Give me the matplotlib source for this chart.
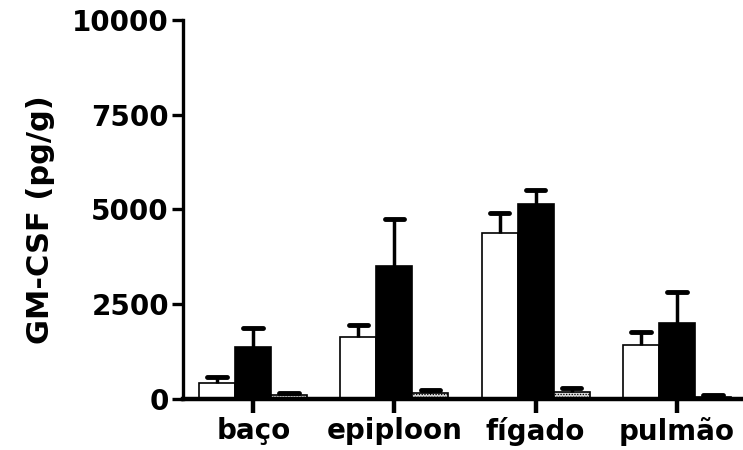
import numpy as np
import matplotlib
matplotlib.use("Agg")
from matplotlib import pyplot as plt

# GM-CSF levels per organ (pg/g), three groups per organ
orgaos = ["baço", "epiploon", "fígado", "pulmão"]
grupo_branco = [420, 1630, 4380, 1420]
erro_branco = [170, 320, 520, 350]
grupo_preto = [1370, 3510, 5140, 2000]
erro_preto = [500, 1240, 370, 820]
grupo_pontilhado = [100, 150, 200, 60]
erro_pontilhado = [60, 80, 100, 40]

plt.rcParams["font.family"] = "DejaVu Sans"
plt.rcParams["font.weight"] = "bold"
plt.rcParams["hatch.linewidth"] = 0.6

fig = plt.figure(figsize=(7.43, 4.5), dpi=100)
ax = fig.add_axes([0.246, 0.113, 0.754, 0.843])

x = np.arange(len(orgaos))
w = 0.255
series = [
    (grupo_branco, erro_branco, dict(facecolor="white")),
    (grupo_preto, erro_preto, dict(facecolor="black")),
    (grupo_pontilhado, erro_pontilhado, dict(facecolor="#dcdcdc", hatch="......")),
]
for i, (vals, errs, estilo) in enumerate(series):
    pos = x + (i - 1) * w
    ax.bar(pos, vals, width=w, edgecolor="black", linewidth=1.2, zorder=2, **estilo)
    topo = np.array(vals) + np.array(errs)
    ax.vlines(pos, vals, topo, color="black", linewidth=2.5, zorder=3)
    ax.hlines(topo, pos - 0.07, pos + 0.07, color="black", linewidth=3.5,
              capstyle="round", zorder=3)

ax.set_xlim(-0.5, 3.47)
ax.set_ylim(0, 10000)
ax.set_yticks([0, 2500, 5000, 7500, 10000])
ax.set_xticks(x)
ax.set_xticklabels(orgaos)
ax.set_ylabel("GM-CSF (pg/g)", fontsize=22, fontweight="bold")
ax.yaxis.set_label_coords(-0.228, 0.472)

for s in ["top", "right"]:
    ax.spines[s].set_visible(False)
ax.spines["left"].set_linewidth(2.4)
ax.spines["bottom"].set_linewidth(3.2)
ax.tick_params(axis="y", length=8, width=2.4, labelsize=20, pad=2)
ax.tick_params(axis="x", length=10, width=3.2, labelsize=20, pad=3)
for lab in ax.get_xticklabels() + ax.get_yticklabels():
    lab.set_fontweight("bold")

fig.savefig("out.png", dpi=100)
